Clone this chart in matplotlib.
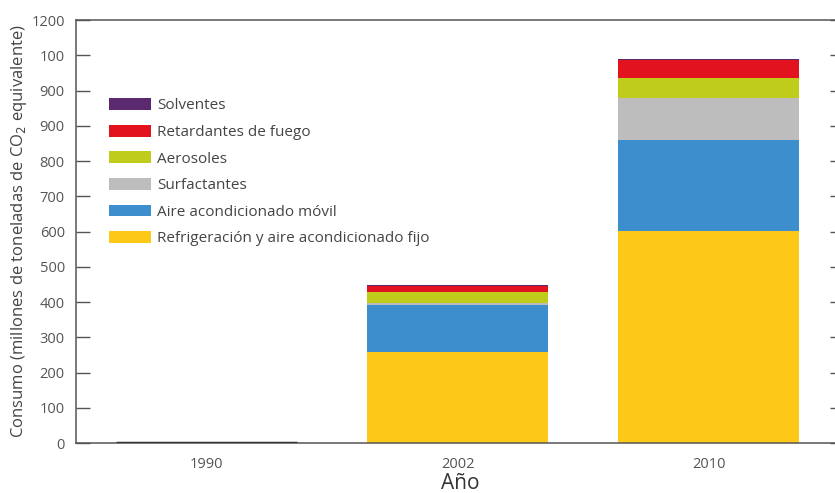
import matplotlib.pyplot as plt
import numpy as np

plt.rcParams['font.family'] = ['Open Sans', 'DejaVu Sans']

years = ["1990", "2002", "2010"]

# stacking order: bottom -> top
refrigeracion = [0, 259, 602]
aire_movil = [0, 132, 258]
surfactantes = [0, 5, 118]
aerosoles = [0, 33, 57]
retardantes = [0, 16, 51]
solventes = [0, 2, 3]

series = [
    ("Refrigeración y aire acondicionado fijo", refrigeracion, "#fdc817"),
    ("Aire acondicionado móvil", aire_movil, "#3d8ecd"),
    ("Surfactantes", surfactantes, "#bdbdbd"),
    ("Aerosoles", aerosoles, "#bfcc1c"),
    ("Retardantes de fuego", retardantes, "#e2131f"),
    ("Solventes", solventes, "#5b2a6e"),
]

# tick labels exactly as printed on the original chart
ytick_vals = [0, 100, 200, 300, 400, 500, 600, 700, 800, 900, 1000, 1100, 1200]
ytick_labels = ["0", "100", "200", "300", "400", "500", "600", "700", "800",
                "900", "900", "100", "1200"]

fig = plt.figure(figsize=(8.35, 4.93), dpi=100)
ax = fig.add_axes([0.091, 0.1014, 0.92, 0.858])

x = np.arange(len(years))
width = 0.72
bottom = np.zeros(len(years))
handles = []
for name, vals, color in series:
    b = ax.bar(x, vals, width, bottom=bottom, color=color, label=name, zorder=2)
    handles.append(b)
    bottom += np.array(vals)

# 1990: negligible consumption, drawn as a dark line on the baseline
ax.bar(x[0], 0, width, bottom=0, color="none", edgecolor="#333333",
       linewidth=2.5, zorder=3)

ax.set_xlim(-0.52, 2.54)
ax.set_ylim(0, 1200)
ax.set_xticks(x)
ax.set_xticklabels(years, color="#555555", fontsize=10.5)
ax.set_yticks(ytick_vals)
ax.set_yticklabels(ytick_labels, color="#555555", fontsize=10.5)
ax.tick_params(axis="y", direction="in", length=10, width=1, color="#555555",
               right=True, pad=8)
ax.tick_params(axis="x", length=0, pad=10)
for s in ax.spines.values():
    s.set_color("#555555")
    s.set_linewidth(1.1)

ax.set_xlabel("Año", fontsize=15, color="#333333", labelpad=1)
ax.set_ylabel("Consumo (millones de toneladas de CO$_2$ equivalente)",
              fontsize=12, color="#444444", labelpad=2)

leg = ax.legend(handles[::-1], [s[0] for s in series][::-1],
                loc="upper left", bbox_to_anchor=(0.043, 0.815),
                borderaxespad=0, borderpad=0,
                frameon=False, fontsize=11, handlelength=2.75, handleheight=0.8,
                labelspacing=0.75, handletextpad=0.4)
for t in leg.get_texts():
    t.set_color("#444444")

fig.savefig("out.png", dpi=100)
